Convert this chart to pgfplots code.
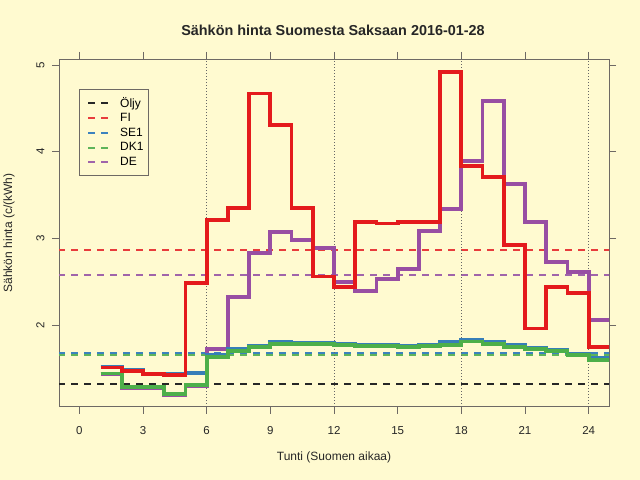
\documentclass[border=0pt]{standalone}
\usepackage{pgfplots}
\pgfplotsset{compat=1.18}
\usepackage{fontspec}
\setmainfont{Liberation Sans}
\definecolor{bg}{RGB}{255,250,208}
\definecolor{cfi}{HTML}{E41A1C}
\definecolor{cse}{HTML}{377EB8}
\definecolor{cdk}{HTML}{4DAF4A}
\definecolor{cde}{HTML}{984EA3}
\definecolor{hfi}{RGB}{232,60,60}
\definecolor{hse}{RGB}{60,130,190}
\definecolor{hdk}{RGB}{95,180,90}
\definecolor{hde}{RGB}{160,100,170}
\definecolor{boxc}{RGB}{110,105,100}
\begin{document}
\begin{tikzpicture}[x=1bp,y=1bp]
\fill[bg] (0,0) rectangle (640,480);
\useasboundingbox (0,0) rectangle (640,480);
\node[font=\bfseries\fontsize{14.4bp}{16bp}\selectfont, text=black!85] at (333,450) {Sähkön hinta Suomesta Saksaan 2016-01-28};
\node[font=\fontsize{12bp}{14bp}\selectfont, text=black!85] at (334,23) {Tunti (Suomen aikaa)};
\node[font=\fontsize{12bp}{14bp}\selectfont, text=black!85, rotate=90] at (9,247) {Sähkön hinta (c/(kWh)};
\begin{axis}[
  at={(59bp,73.3bp)}, anchor=south west,
  scale only axis, width=550bp, height=347.7bp,
  xmin=-0.96, xmax=24.96, ymin=1.057, ymax=5.069,
  xtick={0,3,...,24}, ytick={2,3,4,5},
  /pgf/number format/assume math mode=true,
  tick align=outside, major tick length=7bp,
  tick style={draw=boxc, line width=0.8bp},
  axis line style={draw=boxc, line width=0.9bp},
  x tick label style={font=\fontsize{11.5bp}{13bp}\selectfont, text=black!85},
  y tick label style={font=\fontsize{11.5bp}{13bp}\selectfont, text=black!85, rotate=90, anchor=south},
  xticklabel shift=9bp, yticklabel shift=4bp,
  clip=true,
  legend cell align=left,
  legend style={at={(rel axis cs:0.0364,0.9137)}, anchor=north west, draw=boxc, fill=none,
     font=\fontsize{12bp}{14bp}\selectfont, row sep=0.8bp, inner xsep=2bp, inner ysep=6bp,
     nodes={inner xsep=3bp}},
  legend image code/.code={\path[draw=none] (0bp,0bp) -- (36bp,0bp); \draw[#1] (7bp,0bp) -- (27bp,0bp);},
]
% horizontal reference lines (legend order)
\addplot[draw=black!85, line width=2bp, dash pattern=on 7bp off 6bp] coordinates {(-1,1.316) (26,1.316)};
\addlegendentry{Öljy}
\addplot[draw=hfi, line width=2bp, dash pattern=on 7bp off 6bp] coordinates {(-1,2.865) (26,2.865)};
\addlegendentry{FI}
\addplot[draw=hse, line width=2bp, dash pattern=on 7bp off 6bp] coordinates {(-1,1.675) (26,1.675)};
\addlegendentry{SE1}
\addplot[draw=hdk, line width=2bp, dash pattern=on 7bp off 6bp] coordinates {(-1,1.648) (26,1.648)};
\addlegendentry{DK1}
\addplot[draw=hde, line width=2bp, dash pattern=on 7bp off 6bp] coordinates {(-1,2.577) (26,2.577)};
\addlegendentry{DE}
% vertical dotted lines
\addplot[forget plot, draw=black!60, line width=0.7bp, dash pattern=on 1bp off 2bp] coordinates {(6,0.5) (6,6)};
\addplot[forget plot, draw=black!60, line width=0.7bp, dash pattern=on 1bp off 2bp] coordinates {(12,0.5) (12,6)};
\addplot[forget plot, draw=black!60, line width=0.7bp, dash pattern=on 1bp off 2bp] coordinates {(18,0.5) (18,6)};
\addplot[forget plot, draw=black!60, line width=0.7bp, dash pattern=on 1bp off 2bp] coordinates {(24,0.5) (24,6)};
% DE
\addplot[forget plot, const plot, draw=cde, line width=3.8bp] coordinates {
(1,1.43) (2,1.27) (3,1.27) (4,1.19) (5,1.30) (6,1.72) (7,2.32) (8,2.83) (9,3.07) (10,2.98)
(11,2.89) (12,2.50) (13,2.39) (14,2.53) (15,2.65) (16,3.08) (17,3.34) (18,3.89) (19,4.58)
(20,3.63) (21,3.19) (22,2.73) (23,2.61) (24,2.06) (25,2.06)};
% SE1
\addplot[forget plot, const plot, draw=cse, line width=3.8bp] coordinates {
(1,1.52) (2,1.48) (3,1.44) (4,1.44) (5,1.45) (6,1.65) (7,1.72) (8,1.76) (9,1.80) (10,1.79)
(11,1.79) (12,1.78) (13,1.77) (14,1.77) (15,1.76) (16,1.77) (17,1.80) (18,1.83) (19,1.80)
(20,1.77) (21,1.73) (22,1.71) (23,1.67) (24,1.62) (25,1.62)};
% DK1
\addplot[forget plot, const plot, draw=cdk, line width=3.8bp] coordinates {
(1,1.44) (2,1.28) (3,1.28) (4,1.20) (5,1.31) (6,1.63) (7,1.70) (8,1.75) (9,1.78) (10,1.78)
(11,1.78) (12,1.77) (13,1.76) (14,1.76) (15,1.75) (16,1.76) (17,1.77) (18,1.81) (19,1.78)
(20,1.75) (21,1.72) (22,1.70) (23,1.65) (24,1.60) (25,1.60)};
% FI
\addplot[forget plot, const plot, draw=cfi, line width=3.8bp] coordinates {
(1,1.51) (2,1.47) (3,1.43) (4,1.42) (5,2.48) (6,3.21) (7,3.35) (8,4.67) (9,4.31) (10,3.35)
(11,2.56) (12,2.44) (13,3.19) (14,3.17) (15,3.19) (16,3.19) (17,4.92) (18,3.83) (19,3.71)
(20,2.92) (21,1.96) (22,2.44) (23,2.37) (24,1.75) (25,1.75)};
\end{axis}
\end{tikzpicture}
\end{document}
